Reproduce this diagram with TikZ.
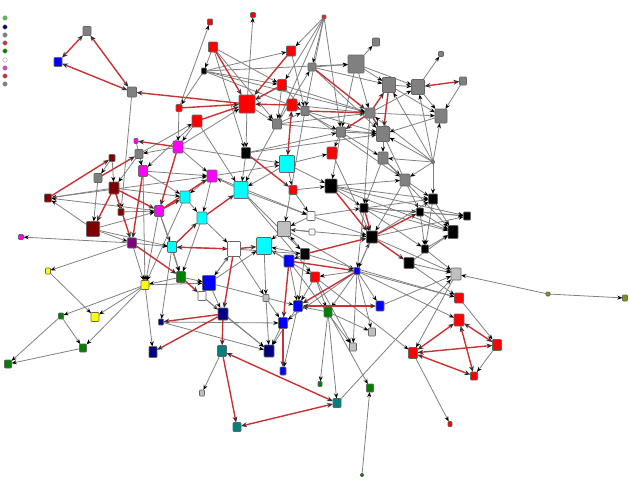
\documentclass[tikz,border=0pt]{standalone}
\usepackage{tikz}
\usetikzlibrary{arrows.meta,backgrounds}

\definecolor{vred}{HTML}{FF0000}
\definecolor{vgray}{HTML}{808080}
\definecolor{vlgray}{HTML}{C0C0C0}
\definecolor{vcyan}{HTML}{00FFFF}
\definecolor{vmag}{HTML}{FF00FF}
\definecolor{vdred}{HTML}{800000}
\definecolor{vpurp}{HTML}{800080}
\definecolor{vyel}{HTML}{FFFF00}
\definecolor{vgreen}{HTML}{008000}
\definecolor{vblue}{HTML}{0000FF}
\definecolor{vnavy}{HTML}{000080}
\definecolor{vteal}{HTML}{008080}
\definecolor{volive}{HTML}{7F8F1F}
\definecolor{lgreen}{HTML}{4CC24C}
\definecolor{ered}{HTML}{C83232}
\definecolor{lorch}{HTML}{CC44CC}

\begin{document}
\begin{tikzpicture}[x=0.5pt, y=-0.5pt,
  vtx/.style={rectangle, rounded corners=0.4pt, draw=black!60, line width=0.3pt, inner sep=0pt, outer sep=0pt},
  dot/.style={circle, draw=black!40, line width=0.2pt, inner sep=0pt, minimum size=2.3pt},
  ln/.style={draw=black!50, line width=0.4pt, -{Stealth[length=2.6pt, width=2pt, color=black]}},
  rl/.style={draw=ered, line width=0.7pt, -{Stealth[length=3pt, width=2.4pt, color=black!80]}},
  rlb/.style={draw=ered, line width=0.7pt, {Stealth[length=3pt, width=2.4pt, color=black!80]}-{Stealth[length=3pt, width=2.4pt, color=black!80]}}]
  \useasboundingbox (0,0) rectangle (630,483);
  %----- vertex macro: (name, x, y, w, h, colour) -----
  \def\vtx#1#2#3#4#5#6{%
    \node[vtx, fill=#6, minimum width=#4*0.5pt, minimum height=#5*0.5pt] (#1) at (#2,#3) {};
  }

  %----- legend -----
  \node[dot, fill=lgreen] (lg1) at (5,18) {};
  \node[dot, fill=vnavy]  (lg2) at (5,27) {};
  \node[dot, fill=vgray]  (lg3) at (5,35) {};
  \node[dot, fill=ered]   (lg4) at (5,43) {};
  \node[dot, fill=vgreen] (lg5) at (5,51) {};
  \node[dot, fill=white]  (lg6) at (5,60) {};
  \node[dot, fill=lorch]  (lg7) at (5,68) {};
  \node[dot, fill=ered]   (lg8) at (5,76) {};
  \node[dot, fill=vgray]  (lg9) at (5,84) {};

  %----- top left -----
  \vtx{gA}{87}{31}{8}{9}{vgray}  \vtx{bA}{58}{62}{8}{9}{vblue}  \vtx{gB}{132}{92}{9}{10}{vgray}

  %----- top: red block -----
  \vtx{rs1}{210}{22}{5}{6}{vred}  \vtx{rs2}{253}{15}{5}{5}{vred}  \vtx{rs3}{324}{17}{4}{4}{ered}
  \vtx{rA}{213}{47}{9}{10}{vred}  \vtx{rB}{291}{51}{9}{10}{vred}  \vtx{kA}{204}{71}{5}{6}{black}
  \vtx{rC}{282}{85}{9}{11}{vred}  \vtx{rBig}{247}{104}{16}{18}{vred}  \vtx{rD}{292}{105}{10}{12}{vred}
  \vtx{rE}{179}{108}{6}{7}{vred}  \vtx{rF}{197}{121}{10}{12}{vred}

  %----- top right: grey block -----
  \vtx{gC}{312}{67}{8}{8}{vgray}    \vtx{gD}{356}{64}{16}{18}{vgray}  \vtx{gE}{376}{42}{7}{8}{vgray}
  \vtx{gF}{389}{85}{13}{15}{vgray}  \vtx{gG}{418}{87}{13}{15}{vgray}  \vtx{gH}{441}{54}{5}{5}{vgray}
  \vtx{gI}{463}{81}{7}{8}{vgray}    \vtx{gJ}{441}{116}{12}{14}{vgray} \vtx{gK}{370}{113}{10}{10}{vgray}
  \vtx{gL}{341}{132}{9}{10}{vgray}  \vtx{gM}{305}{111}{8}{9}{vgray}   \vtx{gN}{277}{124}{9}{10}{vgray}
  \vtx{gO}{383}{134}{13}{15}{vgray} \vtx{gP}{383}{158}{10}{12}{vgray} \vtx{gQ}{405}{180}{10}{12}{vgray}
  \vtx{gR}{433}{162}{3}{3}{vgray}

  %----- centre -----
  \vtx{rG}{332}{153}{10}{12}{vred}  \vtx{kB}{331}{186}{12}{14}{black} \vtx{kC}{246}{153}{9}{11}{black}
  \vtx{cA}{287}{164}{15}{17}{vcyan} \vtx{cB}{241}{190}{14}{17}{vcyan} \vtx{rH}{293}{190}{8}{9}{vred}
  \vtx{kD}{364}{208}{8}{9}{black}   \vtx{wB}{311}{216}{8}{9}{white}   \vtx{wC}{312}{232}{6}{6}{white}
  \vtx{lB}{284}{229}{13}{15}{vlgray} \vtx{cF}{264}{246}{15}{17}{vcyan} \vtx{wD}{234}{249}{13}{15}{white}
  \vtx{kE}{305}{254}{9}{11}{black}  \vtx{kF}{372}{237}{11}{12}{black} \vtx{kG}{409}{263}{10}{11}{black}
  \vtx{bC}{289}{261}{10}{12}{vblue} \vtx{rI}{315}{277}{9}{10}{vred}   \vtx{bD}{357}{271}{6}{7}{vblue}
  \vtx{lC}{266}{298}{6}{7}{vlgray}  \vtx{bE}{298}{306}{9}{11}{vblue}  \vtx{nE}{328}{312}{8}{10}{vgreen}
  \vtx{bF}{380}{306}{8}{10}{vblue}  \vtx{vC}{223}{314}{10}{12}{vnavy} \vtx{bG}{283}{323}{9}{11}{vblue}
  \vtx{vD}{269}{351}{10}{12}{vnavy} \vtx{tA}{222}{351}{9}{11}{vteal}  \vtx{bH}{283}{371}{6}{8}{vblue}
  \vtx{lD}{372}{332}{7}{8}{vlgray}  \vtx{lE}{353}{347}{7}{8}{vlgray}  \vtx{nF}{320}{384}{4}{5}{vgreen}
  \vtx{nG}{370}{388}{7}{8}{vgreen}  \vtx{tB}{337}{403}{8}{9}{vteal}   \vtx{tC}{237}{427}{8}{9}{vteal}
  \vtx{nH}{362}{475}{3}{3}{vgreen}  \vtx{lA}{202}{393}{5}{6}{vlgray}

  %----- left -----
  \vtx{mA}{136}{141}{4}{5}{vmag}    \vtx{mB}{178}{147}{10}{12}{vmag}  \vtx{gS}{139}{154}{8}{9}{vgray}
  \vtx{dA}{112}{158}{6}{7}{vdred}   \vtx{mC}{143}{171}{9}{11}{vmag}   \vtx{mD}{212}{176}{10}{12}{vmag}
  \vtx{gT}{98}{178}{8}{9}{vgray}    \vtx{dB}{114}{188}{10}{12}{vdred} \vtx{dC}{121}{212}{6}{7}{vdred}
  \vtx{dD}{48}{198}{7}{8}{vdred}    \vtx{dE}{93}{229}{13}{15}{vdred}  \vtx{mE}{159}{211}{9}{11}{vmag}
  \vtx{cC}{185}{197}{10}{12}{vcyan} \vtx{cD}{202}{218}{10}{12}{vcyan} \vtx{pA}{132}{243}{9}{10}{vpurp}
  \vtx{cE}{172}{247}{9}{11}{vcyan}  \vtx{mF}{21}{237}{5}{5}{vmag}     \vtx{yA}{48}{271}{5}{6}{vyel}
  \vtx{nA}{181}{277}{9}{11}{vgreen} \vtx{yB}{145}{285}{8}{9}{vyel}    \vtx{bB}{209}{283}{13}{15}{vblue}
  \vtx{wA}{202}{296}{8}{9}{white}   \vtx{nB}{61}{316}{5}{6}{vgreen}   \vtx{yC}{95}{317}{8}{9}{vyel}
  \vtx{nC}{83}{348}{7}{8}{vgreen}   \vtx{nD}{8}{364}{7}{8}{vgreen}    \vtx{vA}{161}{322}{5}{6}{vnavy}
  \vtx{vB}{153}{352}{8}{11}{vnavy}

  %----- right -----
  \vtx{kH}{433}{199}{9}{10}{black}  \vtx{kI}{420}{212}{7}{8}{black}   \vtx{kJ}{467}{216}{7}{8}{black}
  \vtx{kK}{453}{232}{10}{13}{black} \vtx{kL}{425}{249}{7}{8}{black}   \vtx{lF}{456}{274}{10}{12}{vlgray}
  \vtx{oA}{548}{294}{4}{4}{volive}  \vtx{oB}{625}{298}{5}{6}{volive}
  \vtx{rJ}{459}{298}{9}{10}{vred}   \vtx{rK}{459}{320}{10}{12}{vred}  \vtx{rL}{497}{345}{9}{11}{vred}
  \vtx{rM}{413}{353}{9}{11}{vred}   \vtx{rN}{474}{376}{7}{8}{vred}    \vtx{rO}{450}{424}{4}{5}{vred}

  \begin{pgfonlayer}{background}
  %----- grey arcs -----
  \draw[ln] (gB) -- (dC);   \draw[ln] (rE) -- (rs1);  \draw[ln] (rBig) -- (rs2);
  \draw[ln] (rs3) -- (rB);  \draw[ln] (rs3) -- (rC);  \draw[ln] (rs3) -- (gC);
  \draw[ln] (rs3) -- (gM);  \draw[ln] (rs3) -- (gL);  \draw[ln] (rs3) -- (gN);
  \draw[ln] (kA) -- (rB);   \draw[ln] (kA) -- (rC);   \draw[ln] (kA) -- (gD);
  \draw[ln] (kA) -- (gM);   \draw[ln] (kA) -- (rE);   \draw[ln] (rA) -- (rC);
  \draw[ln] (rA) -- (kA);   \draw[ln] (rBig) -- (gN); \draw[ln] (rBig) -- (kC);
  \draw[ln] (rC) -- (gM);   \draw[ln] (rB) -- (gM);   \draw[ln] (rC) -- (gN);
  \draw[ln] (gC) -- (gD);   \draw[ln] (gD) -- (gE);   \draw[ln] (gG) -- (gH);
  \draw[ln] (gI) -- (gJ);   \draw[ln] (gD) -- (gF);   \draw[ln] (gD) -- (gK);
  \draw[ln] (gD) -- (gL);   \draw[ln] (gF) -- (gG);   \draw[ln] (gG) -- (gJ);
  \draw[ln] (gF) -- (gJ);   \draw[ln] (gR) -- (gO);   \draw[ln] (gR) -- (gP);
  \draw[ln] (gR) -- (gF);   \draw[ln] (gR) -- (gG);   \draw[ln] (gR) -- (gK);
  \draw[ln] (gR) -- (gJ);   \draw[ln] (gL) -- (gO);   \draw[ln] (gL) -- (gP);
  \draw[ln] (gN) -- (gC);   \draw[ln] (gN) -- (gM);   \draw[ln] (gO) -- (gP);
  \draw[ln] (gP) -- (gQ);   \draw[ln] (gL) -- (rG);   \draw[ln] (gK) -- (gJ);
  \draw[ln] (gK) -- (gG);   \draw[ln] (gN) -- (gK);   \draw[ln] (gJ) -- (gO);
  \draw[ln] (gM) -- (gO);   \draw[ln] (gM) -- (gQ);   \draw[ln] (gC) -- (gF);
  \draw[ln] (gC) -- (gO);   \draw[ln] (gD) -- (gG);   \draw[ln] (kB) -- (gQ);
  \draw[ln] (kB) -- (kH);   \draw[ln] (gQ) -- (kH);   \draw[ln] (gR) -- (kH);
  \draw[ln] (gR) -- (gQ);   \draw[ln] (gP) -- (kK);   \draw[ln] (gO) -- (kI);
  \draw[ln] (mB) -- (gS);   \draw[ln] (gS) -- (mC);   \draw[ln] (dB) -- (dD);
  \draw[ln] (dE) -- (dD);   \draw[ln] (mE) -- (dD);   \draw[ln] (dA) -- (dB);
  \draw[ln] (dA) -- (gT);   \draw[ln] (dB) -- (dC);   \draw[ln] (pA) -- (mF);
  \draw[ln] (pA) -- (yA);   \draw[ln] (yA) -- (yC);   \draw[ln] (yB) -- (nB);
  \draw[ln] (yB) -- (yC);   \draw[ln] (yB) -- (nC);   \draw[ln] (nB) -- (nC);
  \draw[ln] (nB) -- (nD);   \draw[ln] (nC) -- (nD);   \draw[ln] (nA) -- (yB);
  \draw[ln] (yB) -- (vB);   \draw[ln] (cE) -- (vA);   \draw[ln] (vA) -- (vD);
  \draw[ln] (tA) -- (lA);   \draw[ln] (tB) -- (lF);   \draw[ln] (vC) -- (vD);
  \draw[ln] (bE) -- (bH);   \draw[ln] (nE) -- (nF);   \draw[ln] (nE) -- (nG);
  \draw[ln] (nE) -- (lD);   \draw[ln] (nH) -- (nG);   \draw[ln] (bD) -- (rJ);
  \draw[ln] (bD) -- (rK);   \draw[ln] (kG) -- (lF);   \draw[ln] (oA) -- (lF);
  \draw[ln] (oA) -- (oB);   \draw[ln] (rL) -- (rN);   \draw[ln] (rJ) -- (rL);
  \draw[ln] (rM) -- (rO);   \draw[ln] (lF) -- (rM);   \draw[ln] (rI) -- (rM);
  \draw[ln] (kB) -- (kD);   \draw[ln] (kD) -- (kH);   \draw[ln] (kD) -- (kI);
  \draw[ln] (kD) -- (kJ);   \draw[ln] (kH) -- (kK);   \draw[ln] (kI) -- (kJ);
  \draw[ln] (kI) -- (kK);   \draw[ln] (kL) -- (kK);   \draw[ln] (kG) -- (kK);
  \draw[ln] (kH) -- (kL);   \draw[ln] (kI) -- (kL);   \draw[ln] (kD) -- (kK);
  \draw[ln] (kF) -- (kH);   \draw[ln] (kF) -- (kJ);   \draw[ln] (kB) -- (kJ);
  \draw[ln] (kF) -- (lF);   \draw[ln] (kD) -- (kL);   \draw[ln] (kC) -- (cB);
  \draw[ln] (cA) -- (cB);   \draw[ln] (cA) -- (rH);   \draw[ln] (rH) -- (wB);
  \draw[ln] (cB) -- (mD);   \draw[ln] (mD) -- (cC);   \draw[ln] (mD) -- (cD);
  \draw[ln] (lB) -- (cF);   \draw[ln] (bC) -- (cF);   \draw[ln] (wB) -- (lB);
  \draw[ln] (wC) -- (lB);   \draw[ln] (kE) -- (lB);   \draw[ln] (kE) -- (cF);
  \draw[ln] (bB) -- (wD);   \draw[ln] (bB) -- (cF);   \draw[ln] (bD) -- (rI);
  \draw[ln] (wD) -- (lC);   \draw[ln] (cF) -- (lC);   \draw[ln] (mB) -- (rBig);
  \draw[ln] (gS) -- (rF);   \draw[ln] (rF) -- (mC);   \draw[ln] (rF) -- (mB);
  \draw[ln] (dE) -- (mE);   \draw[ln] (dE) -- (pA);   \draw[ln] (dE) -- (cE);
  \draw[ln] (mC) -- (mD);   \draw[ln] (mC) -- (cC);   \draw[ln] (pA) -- (cE);
  \draw[ln] (cE) -- (wD);   \draw[ln] (nA) -- (bB);   \draw[ln] (bB) -- (vC);
  \draw[ln] (wA) -- (vC);   \draw[ln] (lC) -- (vD);   \draw[ln] (bE) -- (vD);
  \draw[ln] (bG) -- (vD);   \draw[ln] (nE) -- (bE);   \draw[ln] (bD) -- (nE);
  \draw[ln] (bD) -- (bF);   \draw[ln] (bD) -- (lD);   \draw[ln] (bD) -- (lE);
  \draw[ln] (bD) -- (kF);   \draw[ln] (gQ) -- (kF);   \draw[ln] (rH) -- (kB);
  \draw[ln] (cA) -- (kB);   \draw[ln] (wB) -- (kD);   \draw[ln] (kE) -- (bC);
  \draw[ln] (rI) -- (bE);   \draw[ln] (bC) -- (lE);   \draw[ln] (mC) -- (yB);
  \draw[ln] (mE) -- (yB);   \draw[ln] (cC) -- (yB);   \draw[ln] (cB) -- (rI);
  \draw[ln] (cB) -- (kE);   \draw[ln] (cA) -- (rG);   \draw[ln] (mD) -- (cA);
  \draw[ln] (mB) -- (cA);   \draw[ln] (kC) -- (gO);   \draw[ln] (kC) -- (gL);
  \draw[ln] (gN) -- (cB);   \draw[ln] (gM) -- (lB);   \draw[ln] (gL) -- (kB);
  \draw[ln] (gP) -- (kD);   \draw[ln] (gK) -- (kD);   \draw[ln] (rG) -- (kF);
  \draw[ln] (kB) -- (kK);   \draw[ln] (kD) -- (bD);   \draw[ln] (wB) -- (kF);
  \draw[ln] (kF) -- (bD);   \draw[ln] (lB) -- (kF);   \draw[ln] (kG) -- (rJ);
  \draw[ln] (kL) -- (lF);   \draw[ln] (bF) -- (lF);   \draw[ln] (kE) -- (bE);
  \draw[ln] (bC) -- (bE);   \draw[ln] (rI) -- (nE);   \draw[ln] (bD) -- (bG);
  \draw[ln] (lC) -- (bG);   \draw[ln] (wD) -- (bB);   \draw[ln] (cD) -- (wD);
  \draw[ln] (cC) -- (cD);   \draw[ln] (mE) -- (cE);   \draw[ln] (dC) -- (mE);
  \draw[ln] (gT) -- (dE);   \draw[ln] (dB) -- (cC);   \draw[ln] (dD) -- (mD);
  \draw[ln] (mA) -- (mC);   \draw[ln] (gS) -- (dB);   \draw[ln] (rF) -- (cB);
  \draw[ln] (rE) -- (mB);   \draw[ln] (kA) -- (gK);   \draw[ln] (rA) -- (gN);
  \draw[ln] (mB) -- (mD);   \draw[ln] (pA) -- (yB);   \draw[ln] (cE) -- (nA);
  \draw[ln] (cD) -- (nA);   \draw[ln] (mE) -- (nA);   \draw[ln] (bB) -- (bE);
  \draw[ln] (vA) -- (bG);   \draw[ln] (wA) -- (vD);   \draw[ln] (yB) -- (bB);
  \draw[ln] (cB) -- (wB);   \draw[ln] (mD) -- (wB);   \draw[ln] (cF) -- (rI);
  \draw[ln] (wD) -- (kE);   \draw[ln] (lB) -- (bD);   \draw[ln] (kE) -- (rJ);
  \draw[ln] (rI) -- (lE);   \draw[ln] (nE) -- (tB);   \draw[ln] (rD) -- (gL);
  \draw[ln] (rD) -- (gK);   \draw[ln] (rC) -- (gK);   \draw[ln] (gN) -- (gO);
  \draw[ln] (rA) -- (kC);

  %----- red arcs -----
  \draw[rlb] (gA) -- (bA);  \draw[rlb] (gA) -- (gB);  \draw[rlb] (bA) -- (gB);
  \draw[rl] (rBig) -- (gB); \draw[rl] (rB) -- (rBig); \draw[rl] (rA) -- (rBig);
  \draw[rl] (rC) -- (rBig); \draw[rl] (rD) -- (rBig); \draw[rlb] (rD) -- (cA);
  \draw[rl] (rE) -- (rBig); \draw[rl] (rF) -- (rBig); \draw[rl] (gC) -- (gK);
  \draw[rl] (gM) -- (gK);   \draw[rl] (gK) -- (gL);   \draw[rl] (gK) -- (gF);
  \draw[rl] (gF) -- (gO);   \draw[rl] (gK) -- (gO);   \draw[rlb] (gG) -- (gI);
  \draw[rl] (mB) -- (mA);   \draw[rl] (dD) -- (dA);   \draw[rl] (gT) -- (gS);
  \draw[rl] (dB) -- (mE);   \draw[rl] (dB) -- (dE);   \draw[rl] (dB) -- (pA);
  \draw[rl] (mC) -- (pA);   \draw[rl] (mB) -- (mE);   \draw[rl] (mE) -- (cC);
  \draw[rl] (mE) -- (mD);   \draw[rl] (cE) -- (cD);   \draw[rl] (wD) -- (cE);
  \draw[rl] (pA) -- (nA);   \draw[rl] (nA) -- (wA);   \draw[rl] (vC) -- (vA);
  \draw[rl] (vC) -- (vB);   \draw[rl] (vC) -- (tA);   \draw[rlb] (tA) -- (tB);
  \draw[rl] (tA) -- (tC);   \draw[rlb] (tB) -- (tC);  \draw[rl] (bG) -- (bH);
  \draw[rlb] (rK) -- (rL);  \draw[rlb] (rK) -- (rM);  \draw[rlb] (rM) -- (rL);
  \draw[rlb] (rM) -- (rN);  \draw[rlb] (rK) -- (rN);  \draw[rl] (kD) -- (kF);
  \draw[rl] (kF) -- (kG);   \draw[rl] (kF) -- (kI);   \draw[rl] (kE) -- (kF);
  \draw[rl] (bC) -- (bD);   \draw[rl] (bD) -- (bE);   \draw[rlb] (bE) -- (bF);
  \draw[rl] (bC) -- (bG);   \draw[rl] (kC) -- (rH);   \draw[rl] (cD) -- (cB);
  \draw[rl] (wD) -- (cF);   \draw[rl] (wD) -- (vC);   \draw[rl] (kB) -- (kF);
  \end{pgfonlayer}
\end{tikzpicture}
\end{document}
